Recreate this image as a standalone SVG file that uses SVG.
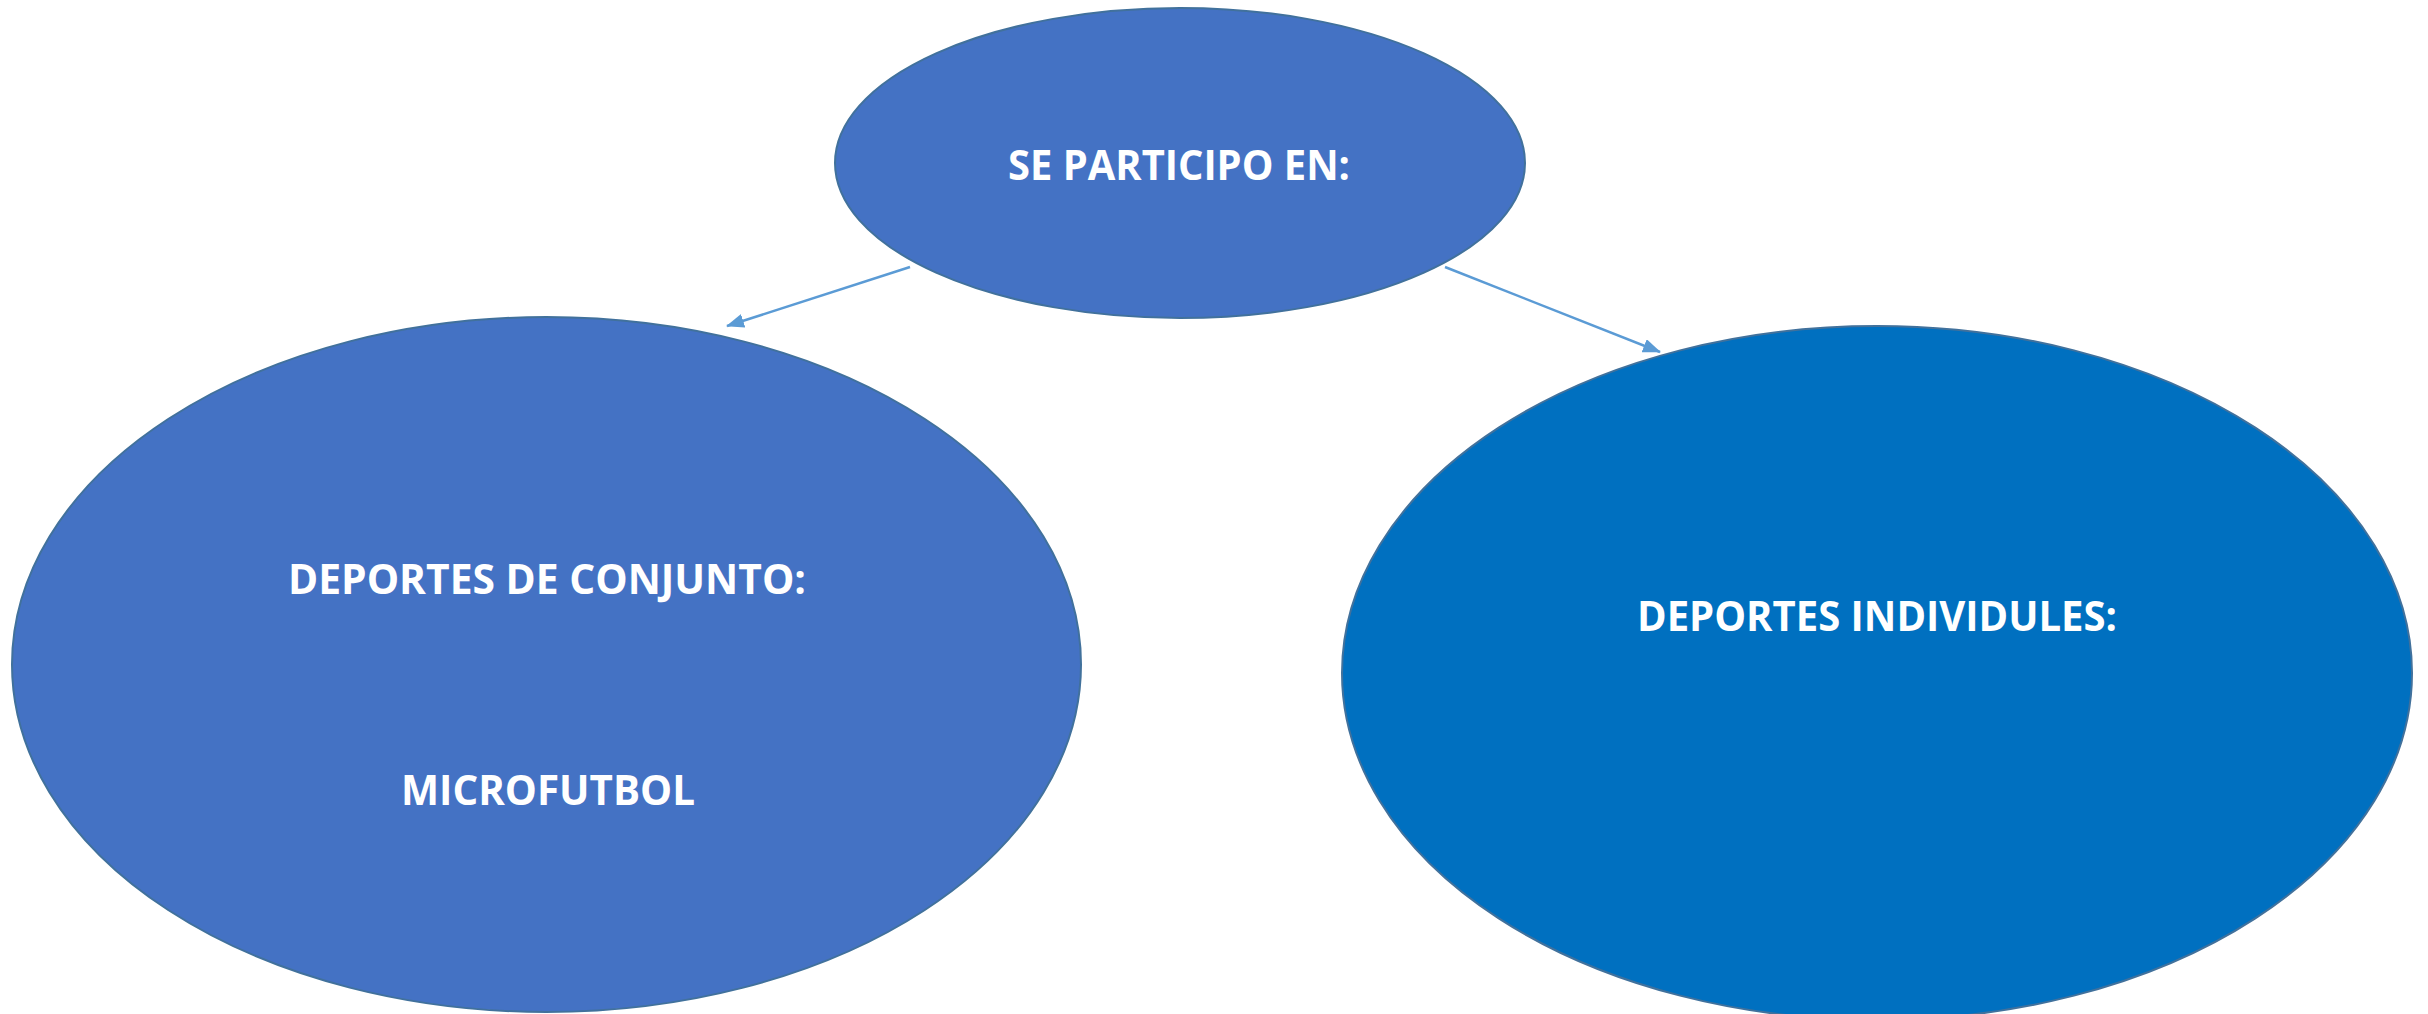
<svg xmlns="http://www.w3.org/2000/svg" width="2428" height="1014" viewBox="0 0 2428 1014">
  <defs>
    <style>
      .node-a { fill: #4472C4; stroke: #41719C; stroke-width: 2; }
      .node-b { fill: #0070C0; stroke: #41719C; stroke-width: 2; }
      .label { fill: #FFFFFF; font-family: "Open Sans", "Noto Sans", "Liberation Sans", sans-serif; font-weight: bold; font-size: 42px; text-anchor: middle; }
      .conn { stroke: #5B9BD5; stroke-width: 2.5; fill: none; }
    </style>
    <marker id="arrow" markerUnits="userSpaceOnUse" markerWidth="18" markerHeight="14" refX="17" refY="7" orient="auto">
      <path d="M0,0 L18,7 L0,14 z" fill="#5B9BD5"/>
    </marker>
  </defs>
  <rect width="2428" height="1014" fill="#FFFFFF"/>
  <g id="node-top">
    <ellipse class="node-a" cx="1180" cy="163" rx="345" ry="155"/>
    <text class="label" x="1179" y="180" textLength="342" lengthAdjust="spacingAndGlyphs">SE PARTICIPO EN:</text>
  </g>
  <g id="node-conjunto">
    <ellipse class="node-a" cx="546.5" cy="664.5" rx="534.5" ry="347.5"/>
    <text class="label" x="547" y="594" textLength="518" lengthAdjust="spacingAndGlyphs">DEPORTES DE CONJUNTO:</text>
    <text class="label" x="548" y="805" textLength="294" lengthAdjust="spacingAndGlyphs">MICROFUTBOL</text>
  </g>
  <g id="node-individuales">
    <ellipse class="node-b" cx="1877" cy="673" rx="535" ry="347"/>
    <text class="label" x="1877" y="631" textLength="480" lengthAdjust="spacingAndGlyphs">DEPORTES INDIVIDULES:</text>
  </g>
  <g id="connectors">
    <line class="conn" x1="910" y1="267" x2="727" y2="326" marker-end="url(#arrow)"/>
    <line class="conn" x1="1445" y1="267" x2="1660" y2="352" marker-end="url(#arrow)"/>
  </g>
</svg>
